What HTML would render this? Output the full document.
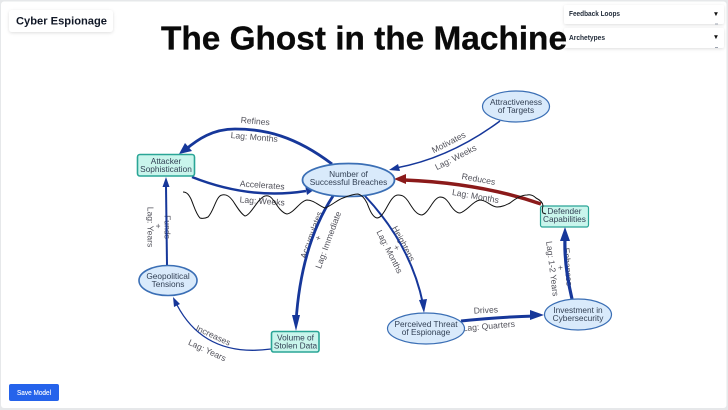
<!DOCTYPE html>
<html><head><meta charset="utf-8">
<style>
html,body{margin:0;padding:0;background:#fff}
svg{display:block}
text{font-family:"Liberation Sans",sans-serif}
.n{font-size:8.300px;fill:#334155;text-anchor:middle}
.l{font-size:8.600px;fill:#52525b;text-anchor:middle}
.e{fill:#d9eafb;stroke:#3b6fb5}
.r{fill:#c9f5ec;stroke:#2aa596;stroke-width:1.6}
.b{fill:none;stroke:#16379a}
</style></head>
<body>
<svg width="728" height="410" viewBox="0 0 728 410" xmlns="http://www.w3.org/2000/svg">
<defs>
<filter id="s" x="-20%" y="-40%" width="140%" height="200%"><feDropShadow dx="0" dy="1" stdDeviation="1.500" flood-color="#000" flood-opacity=".13"/></filter>
</defs>
<rect x="0" y="0" width="728" height="410" fill="#e6e8ea"/>
<rect x="1" y="1.500" width="725.500" height="406.500" rx="3" fill="#fff"/>

<rect x="9" y="10" width="104" height="22" rx="3" fill="#fff" filter="url(#s)"/>
<text x="16" y="24.500" font-size="11" font-weight="700" fill="#111827" textLength="91" lengthAdjust="spacingAndGlyphs">Cyber Espionage</text>

<rect x="564" y="5" width="160" height="19" rx="2" fill="#fff" filter="url(#s)"/>
<text x="569" y="16" font-size="7" font-weight="700" fill="#1f2937" textLength="51" lengthAdjust="spacingAndGlyphs">Feedback Loops</text>
<text x="716" y="16" font-size="6.500" fill="#111" text-anchor="middle">▼</text>
<rect x="715" y="23.500" width="3" height="1" fill="#9ca3af"/>
<rect x="564" y="28" width="160" height="20" rx="2" fill="#fff" filter="url(#s)"/>
<text x="569" y="40" font-size="7" font-weight="700" fill="#1f2937" textLength="36" lengthAdjust="spacingAndGlyphs">Archetypes</text>
<text x="716" y="39" font-size="6.500" fill="#111" text-anchor="middle">▼</text>
<rect x="715" y="47" width="3" height="1" fill="#9ca3af"/>

<text x="161" y="49.500" font-size="33" font-weight="700" fill="#0a0a0a" stroke="#0a0a0a" stroke-width=".3" textLength="406" lengthAdjust="spacingAndGlyphs">The Ghost in the Machine</text>

<rect x="9" y="384" width="50" height="17" rx="2" fill="#2563eb"/>
<text x="34" y="395" font-size="7" fill="#fff" stroke="#fff" stroke-width=".12" text-anchor="middle" textLength="34" lengthAdjust="spacingAndGlyphs">Save Model</text>

<!-- edge labels -->
<g class="lbls">
<text class="l" transform="translate(255,124) rotate(5)">Refines</text>
<text class="l" transform="translate(254,140) rotate(5)">Lag: Months</text>
<text class="l" transform="translate(262,188) rotate(4)">Accelerates</text>
<text class="l" transform="translate(262,204) rotate(4)">Lag: Weeks</text>
<text class="l" transform="translate(450,145) rotate(-27)">Motivates</text>
<text class="l" transform="translate(457,160) rotate(-27)">Lag: Weeks</text>
<text class="l" transform="translate(478,182) rotate(10)">Reduces</text>
<text class="l" transform="translate(475,199) rotate(10)">Lag: Months</text>
<text class="l" transform="translate(164.500,227) rotate(90)">Funds</text>
<text class="l" transform="translate(147.500,227) rotate(90)">Lag: Years</text>
<text class="l" transform="translate(155.500,226) rotate(90)">+</text>
<text class="l" transform="translate(314,236) rotate(-70)">Accumulates</text>
<text class="l" transform="translate(331,241) rotate(-70)" textLength="60" lengthAdjust="spacingAndGlyphs">Lag: Immediate</text>
<text class="l" transform="translate(321,239) rotate(-70)">+</text>
<text class="l" transform="translate(401,245) rotate(62)">Heightens</text>
<text class="l" transform="translate(387,253) rotate(63)">Lag: Months</text>
<text class="l" transform="translate(394,249) rotate(62)">+</text>
<text class="l" transform="translate(486,313) rotate(-3)">Drives</text>
<text class="l" transform="translate(489,329) rotate(-5)">Lag: Quarters</text>
<text class="l" transform="translate(565,267) rotate(85)">Enhances</text>
<text class="l" transform="translate(549.500,269) rotate(83)">Lag: 1-2 Years</text>
<text class="l" transform="translate(557.500,268) rotate(84)">+</text>
<text class="l" transform="translate(212,338) rotate(25)">Increases</text>
<text class="l" transform="translate(206,353) rotate(25)">Lag: Years</text>
</g>

<!-- edges -->
<path class="b" stroke-width="2.800" d="M332 164C295 136 265 129 235 129C213 129 198 139 185 150"/>
<polygon fill="#16379a" points="179,154 185,143 192,151"/>
<path class="b" stroke-width="2.500" d="M192 177Q250 200 306 191"/>
<polygon fill="#16379a" points="315,189 305,185 307,195"/>
<path class="b" stroke-width="1.500" d="M500 121Q450 158 396 168"/>
<polygon fill="#16379a" points="389,170 398,164 400,171"/>
<path fill="none" stroke="#8b1a1a" stroke-width="3.500" d="M541 204Q480 183 404 180"/>
<polygon fill="#8b1a1a" points="394,179 406,174 406,184"/>
<path class="b" stroke-width="2" d="M167 265L166 186"/>
<polygon fill="#16379a" points="166,177 162.500,187 169.500,187"/>
<path class="b" stroke-width="2.800" d="M333 196Q301 245 296 322"/>
<polygon fill="#16379a" points="296,331 292,315 300,315"/>
<path class="b" stroke-width="2" d="M365 196Q411 245 423 304"/>
<polygon fill="#16379a" points="424,313 419,300 427,299"/>
<path class="b" stroke-width="3" d="M461 321Q500 317 535 316"/>
<polygon fill="#16379a" points="544,315 530,310 530,320"/>
<path class="b" stroke-width="3.200" d="M572 299Q564 265 565 238"/>
<polygon fill="#16379a" points="565,227 560,241 570,241"/>
<path class="b" stroke-width="1.300" d="M271 349Q205 358 177 305"/>
<polygon fill="#16379a" points="173,297 180,304 174,307"/>

<!-- nodes -->
<ellipse class="e" cx="348.500" cy="180" rx="46" ry="16.500" stroke-width="1.800"/>
<text class="n" x="348.500" y="177">Number of</text>
<text class="n" x="348.500" y="185">Successful Breaches</text>

<ellipse class="e" cx="516" cy="106.500" rx="33.500" ry="15.500" stroke-width="1.200"/>
<text class="n" x="516" y="105">Attractiveness</text>
<text class="n" x="516" y="113">of Targets</text>

<rect class="r" x="137.500" y="154.500" width="57" height="21.500" rx="2.500"/>
<text class="n" x="166" y="164">Attacker</text>
<text class="n" x="166" y="172">Sophistication</text>

<ellipse class="e" cx="168" cy="280.500" rx="29" ry="15" stroke-width="1.600"/>
<text class="n" x="168" y="279">Geopolitical</text>
<text class="n" x="168" y="287">Tensions</text>

<rect class="r" x="271.500" y="331.500" width="47.500" height="20.500" rx="2"/>
<text class="n" x="295.500" y="340.500">Volume of</text>
<text class="n" x="295.500" y="348.500">Stolen Data</text>

<rect class="r" x="540.500" y="206" width="48" height="21" rx="2" style="stroke-width:1.200"/>
<text class="n" x="564.500" y="214">Defender</text>
<text class="n" x="564.500" y="222">Capabilities</text>

<ellipse class="e" cx="426" cy="328.500" rx="38.500" ry="15.500" stroke-width="1.200"/>
<text class="n" x="426" y="327">Perceived Threat</text>
<text class="n" x="426" y="335">of Espionage</text>

<ellipse class="e" cx="578" cy="314.500" rx="33.500" ry="15.500" stroke-width="1.200"/>
<text class="n" x="578" y="313">Investment in</text>
<text class="n" x="578" y="321">Cybersecurity</text>

<!-- squiggle -->
<path fill="none" stroke="#111" stroke-width="1" stroke-linejoin="round" d="M183 192C187 192 189 195 191 199C194 206 196 214 200 218C203 219 206 218 208 217C214 211 216 196 222 195C227 194 230 197 233 201C237 207 241 214 245 216C251 215 258 198 265 196C269 195 271 197 274 201C278 207 282 213 287 214C294 213 300 201 307 200C314 200 319 206 325 208C331 206 337 200 343 198C348 196 353 194 358 194C362 195 365 199 367 203C369 208 372 217 377 218C380 218 382 215 384 212C388 206 392 195 398 195C403 195 405 197 408 201C412 207 416 215 422 215C429 213 433 198 440 197C444 197 446 199 449 203C452 208 456 213 460 213C467 211 473 201 480 200C487 200 491 207 497 207C502 207 506 205 510 203C515 199 521 195 527 195C531 194 534 196 536 198C540 200 543 203 543 206C542 209 542 211 543 213L546 214"/>
</svg>
</body></html>
